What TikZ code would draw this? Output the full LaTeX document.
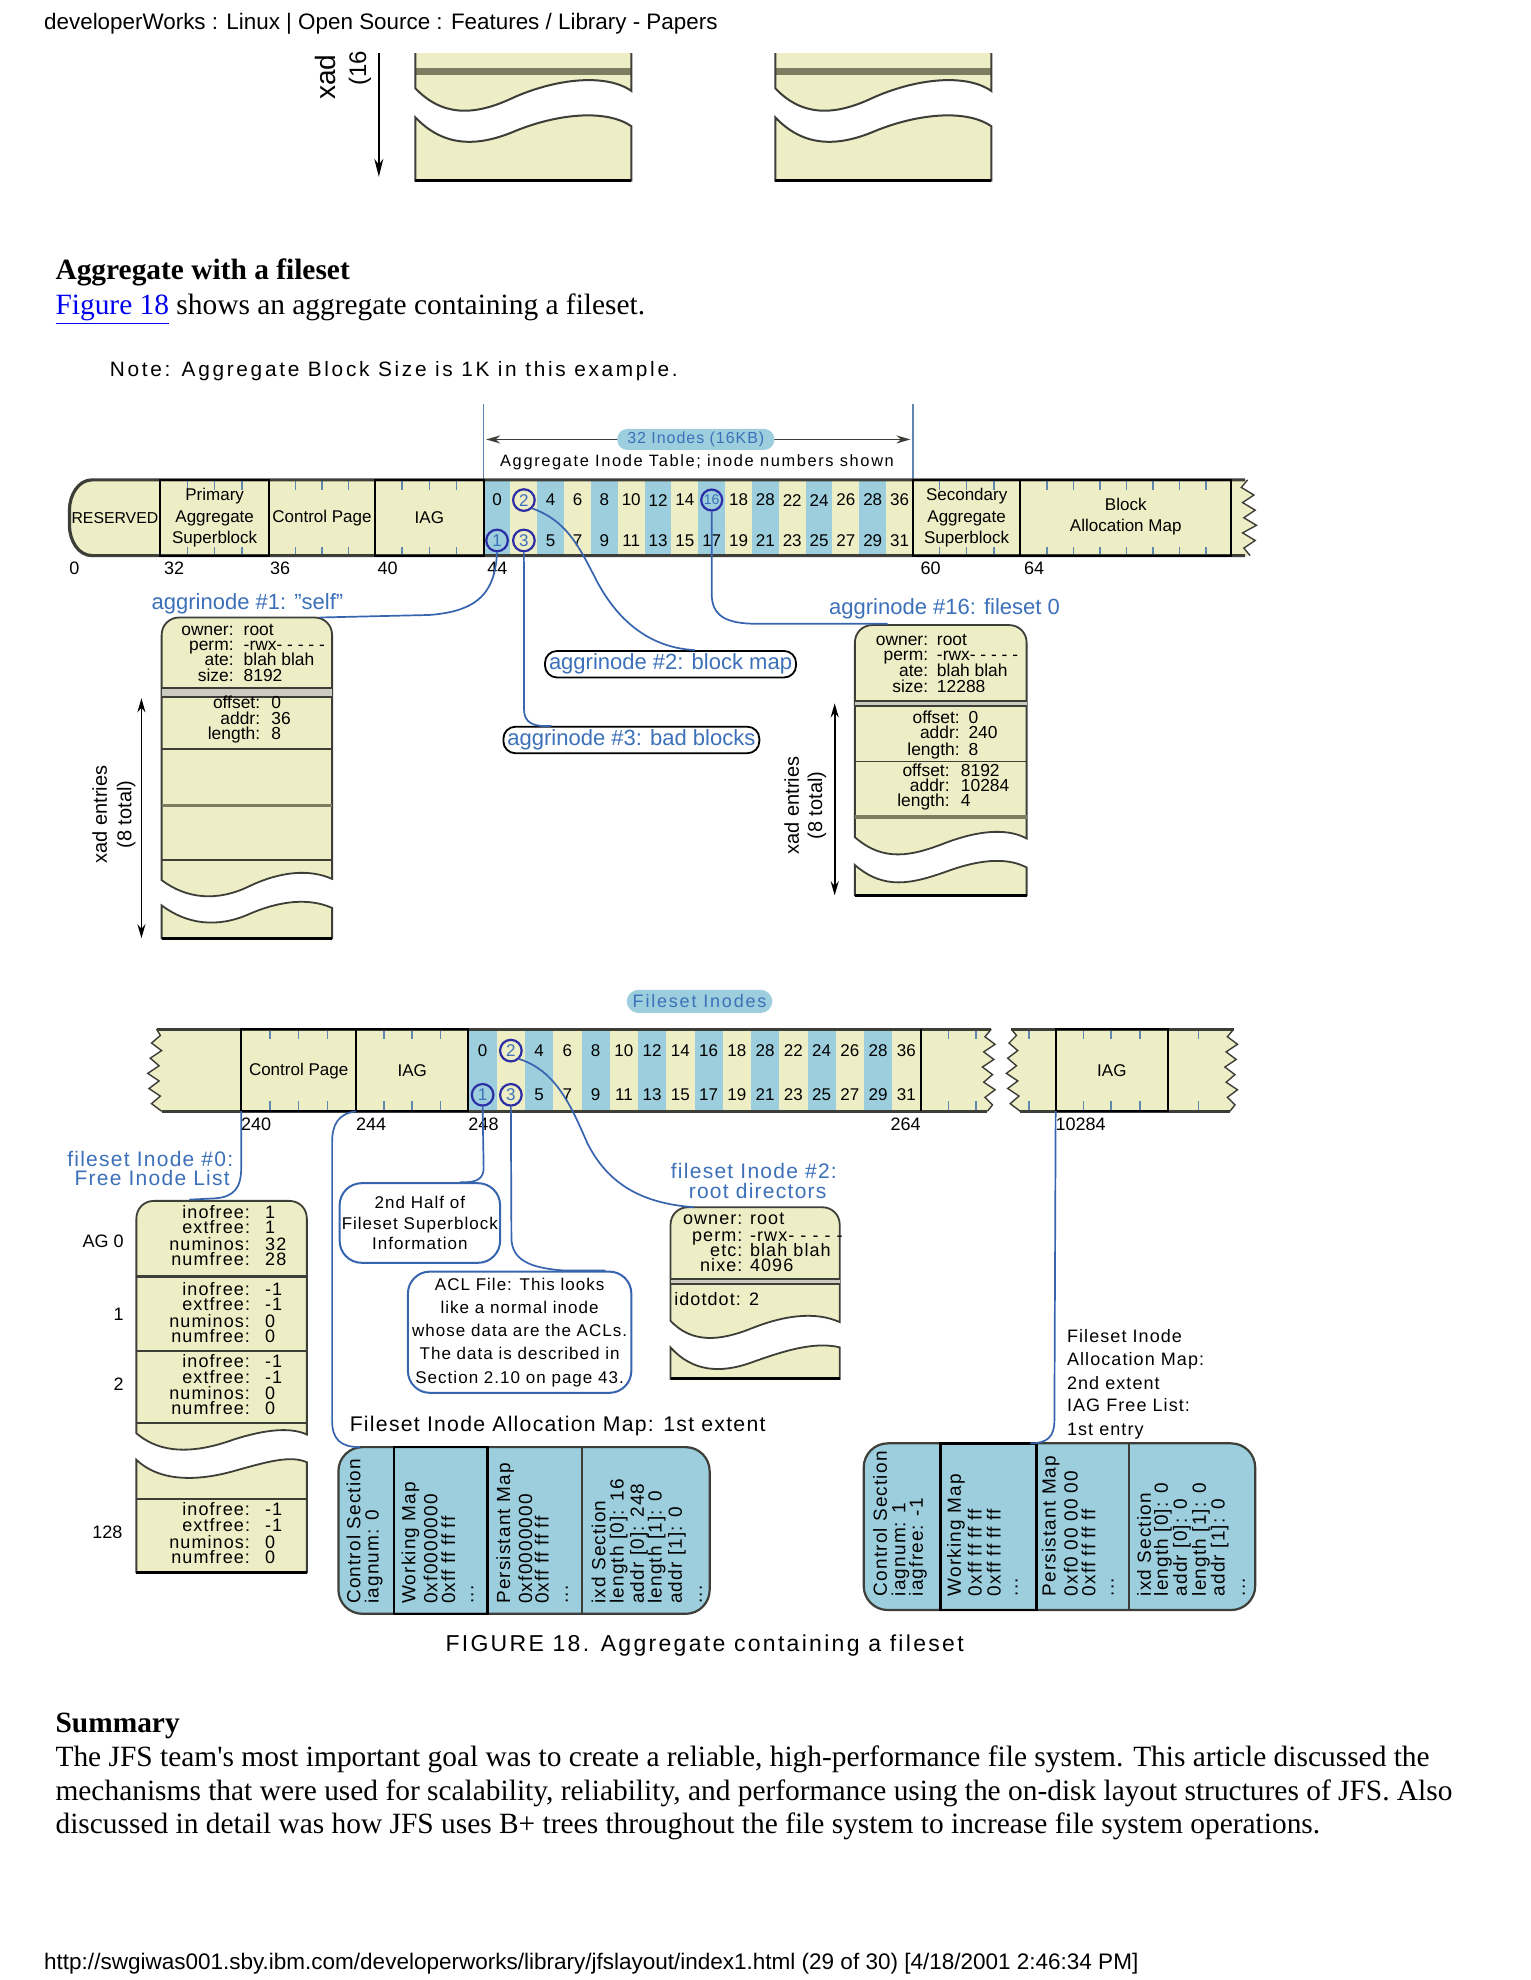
\documentclass[tikz,border=0pt]{standalone}
\usepackage{fontspec}
\setmainfont{Liberation Sans}
\newfontfamily\serifpage{Liberation Serif}
\newfontfamily\lsA[LetterSpace=6]{Liberation Sans}
\newfontfamily\lsB[LetterSpace=10]{Liberation Sans}
\newfontfamily\lsC[LetterSpace=13]{Liberation Sans}
\usetikzlibrary{arrows.meta}
\newcommand{\fsz}[1]{\fontsize{#1}{#1}\selectfont}
\newcommand{\kv}[7][\fsz{8.7}]{%
  \node[kvk, font=#1] (#2k) at (#3,#5) {#6};
  \node[kvv, font=#1] (#2v) at (#3+#4,#5) {#7};}
\definecolor{yel}{RGB}{238,238,198}
\definecolor{ibl}{RGB}{156,206,222}
\definecolor{lblue}{RGB}{60,112,185}
\definecolor{cblue}{RGB}{45,45,165}
\definecolor{connb}{RGB}{55,100,175}
\definecolor{olive}{RGB}{125,125,98}
\definecolor{bord}{RGB}{62,62,56}
\definecolor{tickc}{RGB}{95,135,175}
\definecolor{linkblue}{RGB}{0,0,238}
\tikzset{
 tx/.style={inner sep=0pt, outer sep=0pt},
 num/.style={tx, font=\fsz{8.5}},
 seg/.style={tx, font=\fontsize{8.5}{10.7}\selectfont, align=center},
 axl/.style={tx, font=\fsz{9}, anchor=base west},
 blu/.style={tx, font=\fsz{11}, text=lblue},
 blus/.style={tx, font=\lsA\fsz{10.5}, text=lblue},
 kvk/.style={tx, anchor=base east},
 kvv/.style={tx, anchor=base west},
 circ/.style={circle, draw=cblue, line width=1.1pt, inner sep=0pt, minimum size=10.8pt, text=lblue, font=\fsz{8.5}},
 conn/.style={draw=connb, line width=0.85pt},
 rot/.style={tx, rotate=90, anchor=west, font=\lsA\fsz{9.5}},
 tk/.style={draw=tickc, line width=0.8pt},
 boxst/.style={fill=yel, draw=bord, line width=0.9pt},
 sepl/.style={draw=bord, line width=0.8pt},
 sepk/.style={draw=bord, line width=1.3pt},
 oliv/.style={draw=olive, line width=1.6pt},
 segbox/.style={draw=black, line width=1pt},
 stripb/.style={draw=bord, line width=1.6pt},
 zig/.style={draw=bord, line width=0.7pt},
 iam/.style={fill=ibl, draw=bord, line width=1.1pt, rounded corners=12pt},
 bluebox/.style={draw=connb, line width=1pt, rounded corners=11pt, fill=white, align=center, inner sep=0pt},
 pillw/.style={draw=black, line width=0.9pt, rounded corners=6pt, fill=white, text=lblue, font=\fsz{11}, inner xsep=2pt, inner ysep=1.5pt},
 pillb/.style={fill=ibl, rounded corners=5pt, text=lblue},
 arr/.style={{Stealth[length=7pt,width=4pt]}-{Stealth[length=7pt,width=4pt]}, line width=0.9pt, draw=black},
}
\begin{document}
\begin{tikzpicture}[x=0.6312pt, y=-0.6312pt]
\useasboundingbox (0,0) rectangle (1212,1568);
\fill[white] (0,0) rectangle (1212,1568);

% ---------------- header
\node[tx, anchor=base west, font=\fsz{11.2}] (hdr) at (35,23) {developerWorks : Linux | Open Source : Features / Library - Papers};

% ---------------- fragment of previous figure
\begin{scope}
\clip (0,42) rectangle (1212,160);
\draw[-{Stealth[length=9pt,width=4.5pt]}, line width=0.9pt] (300,30) -- (300,140);
\foreach \sx in {329,614} {
 \begin{scope}[shift={(\sx,0)}]
 \fill[yel] (0,30) -- (171,30) -- (171,72) .. controls (151,58) and (111,62) .. (76,78) .. controls (46,92) and (21,92) .. (0,70) -- cycle;
 \fill[olive] (0,54) rectangle (171,59);
 \draw[bord, line width=1pt] (0,30) -- (0,70) .. controls (21,92) and (46,92) .. (76,78) .. controls (111,62) and (151,58) .. (171,72) -- (171,30);
 \filldraw[fill=yel, draw=bord, line width=1pt] (0,143) -- (0,93) .. controls (21,115) and (46,117) .. (76,105) .. controls (111,90) and (151,86) .. (171,100) -- (171,143) -- cycle;
 \draw[black, line width=1.8pt] (0,143) -- (171,143);
 \end{scope}}
\end{scope}
\node[tx, rotate=90, anchor=west, font=\fsz{14}] (xadA) at (258,79) {xad};
\node[tx, rotate=90, anchor=west, font=\fsz{12}] (xadB) at (285,68) {(16};

% ---------------- page text
\node[tx, anchor=base west, font=\serifpage\bfseries\fsz{14.7}] (h1) at (44,221) {Aggregate with a fileset};
\node[tx, anchor=base west, font=\serifpage\fsz{14.7}] (p1) at (44,249) {{\color{linkblue}\underline{Figure 18}} shows an aggregate containing a fileset.};
\node[tx, anchor=base west, font=\lsC\fsz{10.4}] (note) at (87,298) {Note: Aggregate Block Size is 1K in this example.};

% ---------------- aggregate strip
\draw[tk] (383,320) -- (383,380);
\draw[tk] (723,320) -- (723,380);
\coordinate (arL) at (385,348);
\coordinate (arR) at (721,348);
\draw[arr, draw=bord] (arL) -- (arR);
\node[pillb, font=\lsA\fsz{8}, inner xsep=5pt, inner ysep=1.5pt] (p32) at (551,348) {32 Inodes (16KB)};
\node[tx, font=\lsB\fsz{8.2}] (ait) at (552,366) {Aggregate Inode Table; inode numbers shown};

\fill[yel] (73,380) -- (988,380) -- (983,386) -- (993,392) -- (984,398) -- (994,404) -- (985,410) -- (995,416) -- (984,422) -- (994,428) -- (985,434) -- (990,440) -- (73,440) .. controls (62,440) and (55,428) .. (55,416) -- (55,404) .. controls (55,392) and (62,380) .. (73,380) -- cycle;
\foreach \k in {0,2,4,6,8,10,12,14} \fill[ibl] (383+21.25*\k,380) rectangle ++(21.25,60);
\foreach \x in {148.5,170,191.5,234,255,276,318.5,340,361.5,744,765.5,787,829,850,871,892,913,934,955} {
  \draw[tk] (\x,381) -- (\x,388); \draw[tk] (\x,433) -- (\x,440);}
\draw[stripb] (986,380) -- (73,380) .. controls (62,380) and (55,392) .. (55,404) -- (55,416) .. controls (55,428) and (62,440) .. (73,440) -- (986,440);
\draw[segbox] (127,380) rectangle (213,440);
\draw[segbox] (297,380) rectangle (383,440);
\draw[segbox] (723,380) rectangle (808,440);
\draw[segbox] (808,380) rectangle (975,440);
\draw[zig] (988,380) -- (983,386) -- (993,392) -- (984,398) -- (994,404) -- (985,410) -- (995,416) -- (984,422) -- (994,428) -- (985,434) -- (990,440);

\node[seg, font=\fsz{7.9}] (res) at (91,410) {RESERVED};
\node[seg] (pas) at (170,410) {Primary\\Aggregate\\Superblock};
\node[seg] (cp1) at (255,410) {Control Page};
\node[seg] (iag1) at (340,410) {IAG};
\node[seg] (sas) at (765.5,410) {Secondary\\Aggregate\\Superblock};
\node[seg] (bam) at (891.5,409) {Block\\Allocation Map};

\foreach \i/\t in {0/0,2/4,3/6,4/8,5/10,6/12,7/14,9/18,10/28,11/22,12/24,13/26,14/28,15/36}
  \node[num] (at\i) at (393.625+21.25*\i,396) {\t};
\foreach \i/\t in {2/5,3/7,4/9,5/11,6/13,7/15,8/17,9/19,10/21,11/23,12/25,13/27,14/29,15/31}
  \node[num] (ab\i) at (393.625+21.25*\i,428) {\t};
\node[circ, fill=ibl] (c1) at (393.625,428) {1};
\node[circ, fill=yel] (c2) at (414.875,396) {2};
\node[circ, fill=yel] (c3) at (414.875,428) {3};
\node[circ, fill=ibl, font=\fsz{7}, minimum size=10.5pt] (c16) at (563.625,396) {16};

\node[axl] (n0) at (55,455) {0};
\node[axl] (n32) at (130,455) {32};
\node[axl] (n36) at (214,455) {36};
\node[axl] (n40) at (299,455) {40};
\node[axl] (n44) at (386,455) {44};
\node[axl] (n60) at (729,455) {60};
\node[axl] (n64) at (811,455) {64};

% ---------------- aggrinode #1 box
\node[blu] (l1) at (196,478) {aggrinode \#1: "self"};
\filldraw[boxst] (128,697) -- (128,503) .. controls (128,495) and (134,489) .. (142,489) -- (249,489) .. controls (257,489) and (263,495) .. (263,503) -- (263,696) .. controls (245,688) and (222,690) .. (197,702) .. controls (172,714) and (148,712) .. (128,697) -- cycle;
\fill[olive!40] (128,545) rectangle (263,552);
\draw[sepl] (128,545) -- (263,545);
\draw[sepl] (128,552) -- (263,552);
\draw[sepl] (128,593) -- (263,593);
\draw[oliv] (128,638) -- (263,638);
\draw[sepl] (128,681) -- (263,681);
\filldraw[boxst] (128,743) -- (128,717) .. controls (148,732) and (172,735) .. (197,724) .. controls (222,713) and (245,711) .. (263,719) -- (263,743) -- cycle;
\draw[black, line width=1.5pt] (128,743) -- (263,743);
\kv{b1o}{185}{8}{503}{owner:}{root}
\kv{b1p}{185}{8}{515}{perm:}{-rwx- - - - -}
\kv{b1a}{185}{8}{527}{ate:}{blah blah}
\kv{b1s}{185}{8}{540}{size:}{8192}
\kv{b1f}{206}{9}{561}{offset:}{0}
\kv{b1d}{206}{9}{574}{addr:}{36}
\kv{b1l}{206}{9}{586}{length:}{8}
\coordinate (xa1) at (112,553);
\coordinate (xa2) at (112,743);
\draw[arr] (xa1) -- (xa2);
\node[tx, rotate=90, font=\fsz{10}] (xe1) at (79,645) {xad entries};
\node[tx, rotate=90, font=\fsz{10}] (xt1) at (100,645) {(8 total)};

% ---------------- pills
\node[pillw] (p2) at (531,526) {aggrinode \#2: block map};
\node[pillw] (p3) at (500,586) {aggrinode \#3: bad blocks};

% ---------------- aggrinode #16 box
\node[blu] (l16) at (748,482) {aggrinode \#16: fileset 0};
\filldraw[boxst] (677,663) -- (677,509) .. controls (677,501) and (683,495) .. (691,495) -- (799,495) .. controls (807,495) and (813,501) .. (813,509) -- (813,664) .. controls (800,657) and (780,656) .. (750,667) .. controls (722,678) and (700,683) .. (677,663) -- cycle;
\fill[olive!40] (677,555) rectangle (813,559);
\draw[sepl] (677,555) -- (813,555);
\draw[sepl] (677,559) -- (813,559);
\draw[sepl] (677,603) -- (813,603);
\draw[oliv] (677,647) -- (813,647);
\filldraw[boxst] (677,709) -- (677,685) .. controls (700,705) and (722,700) .. (750,690) .. controls (780,679) and (800,680) .. (813,687) -- (813,709) -- cycle;
\draw[black, line width=1.5pt] (677,709) -- (813,709);
\kv{b16o}{735}{7}{511}{owner:}{root}
\kv{b16p}{735}{7}{523}{perm:}{-rwx- - - - -}
\kv{b16a}{735}{7}{536}{ate:}{blah blah}
\kv{b16s}{735}{7}{548}{size:}{12288}
\kv{b16f}{760}{7}{573}{offset:}{0}
\kv{b16d}{760}{7}{585}{addr:}{240}
\kv{b16l}{760}{7}{598}{length:}{8}
\kv{b16g}{752}{9}{615}{offset:}{8192}
\kv{b16e}{752}{9}{627}{addr:}{10284}
\kv{b16m}{752}{9}{639}{length:}{4}
\coordinate (xb1) at (661,557);
\coordinate (xb2) at (661,709);
\draw[arr] (xb1) -- (xb2);
\node[tx, rotate=90, font=\fsz{10}] (xe2) at (627,638) {xad entries};
\node[tx, rotate=90, font=\fsz{10}] (xt2) at (647,638) {(8 total)};

% ---------------- connectors of aggregate
\coordinate (e1) at (253,489);
\coordinate (e16) at (703,494);
\draw[conn] (c1.south) .. controls (392,468) and (380,484) .. (340,487) -- (e1);
\draw[conn] (c2.south east) .. controls (448,412) and (458,432) .. (470,455) .. controls (488,492) and (515,513) .. ([xshift=12pt]p2.north);
\draw[conn] (c3.south) -- (415,562) .. controls (415,572) and (422,576) .. ([xshift=-40pt]p3.north);
\draw[conn] (c16.south) -- (563.6,470) .. controls (563.6,488) and (575,494) .. (600,494) -- (e16);

% ---------------- fileset strip
\node[pillb, font=\lsB\fsz{9}, inner xsep=3pt, inner ysep=2.5pt, rounded corners=6pt] (pfi) at (554,793) {Fileset Inodes};
\fill[yel] (124,815) -- (785,815) -- (780,821) -- (788,827) -- (779,833) -- (787,839) -- (778,845) -- (786,851) -- (779,857) -- (788,863) -- (780,869) -- (786,875) -- (782,880) -- (128,880) -- (120,874) -- (127,868) -- (118,862) -- (126,856) -- (117,850) -- (126,844) -- (119,838) -- (128,832) -- (120,826) -- (127,820) -- cycle;
\fill[yel] (801,815) -- (977,815) -- (972,821) -- (980,827) -- (971,833) -- (979,839) -- (970,845) -- (978,851) -- (971,857) -- (980,863) -- (972,869) -- (978,875) -- (974,880) -- (808,880) -- (800,874) -- (807,868) -- (798,862) -- (806,856) -- (797,850) -- (805,844) -- (798,838) -- (806,832) -- (799,826) -- (805,820) -- cycle;
\foreach \k in {0,2,4,6,8,10,12,14} \fill[ibl] (371+22.375*\k,815) rectangle ++(22.375,65);
\foreach \x in {213.75,236.5,259.25,304.25,326.5,348.75,751,773,815,858,880,903,949} {
  \draw[tk] (\x,816) -- (\x,823); \draw[tk] (\x,872) -- (\x,879);}
\draw[stripb] (124,815) -- (785,815);
\draw[stripb] (128,880) -- (782,880);
\draw[stripb] (801,815) -- (977,815);
\draw[stripb] (808,880) -- (974,880);
\draw[segbox] (191,815) rectangle (282,880);
\draw[segbox] (282,815) rectangle (371,880);
\draw[segbox] (729,815) -- (729,880);
\draw[segbox] (836,815) rectangle (925,880);
\draw[zig] (124,815) -- (127,820) -- (120,826) -- (128,832) -- (119,838) -- (126,844) -- (117,850) -- (126,856) -- (118,862) -- (127,868) -- (120,874) -- (128,880);
\draw[zig] (785,815) -- (780,821) -- (788,827) -- (779,833) -- (787,839) -- (778,845) -- (786,851) -- (779,857) -- (788,863) -- (780,869) -- (786,875) -- (782,880);
\draw[zig] (801,815) -- (805,820) -- (799,826) -- (806,832) -- (798,838) -- (805,844) -- (797,850) -- (806,856) -- (798,862) -- (807,868) -- (800,874) -- (808,880);
\draw[zig] (977,815) -- (972,821) -- (980,827) -- (971,833) -- (979,839) -- (970,845) -- (978,851) -- (971,857) -- (980,863) -- (972,869) -- (978,875) -- (974,880);
\node[seg] (cp2) at (236.5,848) {Control Page};
\node[seg] (iag2) at (326.5,848) {IAG};
\node[seg] (iag3) at (880.5,848) {IAG};
\foreach \i/\t in {0/0,2/4,3/6,4/8,5/10,6/12,7/14,8/16,9/18,10/28,11/22,12/24,13/26,14/28,15/36}
  \node[num] (ft\i) at (382.19+22.375*\i,832) {\t};
\foreach \i/\t in {2/5,3/7,4/9,5/11,6/13,7/15,8/17,9/19,10/21,11/23,12/25,13/27,14/29,15/31}
  \node[num] (fb\i) at (382.19+22.375*\i,867) {\t};
\node[circ, fill=ibl] (d1) at (382.19,867) {1};
\node[circ, fill=yel] (d2) at (404.565,832) {2};
\node[circ, fill=yel] (d3) at (404.565,867) {3};
\node[axl] (m240) at (191,895) {240};
\node[axl] (m244) at (282,895) {244};
\node[axl] (m248) at (371,895) {248};
\node[tx, font=\fsz{9}, anchor=base east] (m264) at (729,895) {264};
\node[axl] (m10284) at (836,895) {10284};

% ---------------- free inode list
\node[blus] (fl1) at (119,918) {fileset Inode \#0:};
\node[blus] (fl2) at (120.5,933) {Free Inode List};
\filldraw[boxst] (108,1135) -- (108,965) .. controls (108,957) and (114,951) .. (122,951) -- (229,951) .. controls (237,951) and (243,957) .. (243,965) -- (243,1136) .. controls (230,1130) and (210,1132) .. (185,1140) .. controls (160,1149) and (130,1154) .. (108,1135) -- cycle;
\draw[sepk] (108,1011) -- (243,1011);
\draw[sepk] (108,1070) -- (243,1070);
\draw[sepk] (108,1127) -- (243,1127);
\filldraw[boxst] (108,1245) -- (108,1156) .. controls (128,1175) and (160,1172) .. (185,1165) .. controls (210,1158) and (230,1152) .. (243,1158) -- (243,1245) -- cycle;
\draw[sepk] (108,1187) -- (243,1187);
\draw[black, line width=1.5pt] (108,1245) -- (243,1245);
\kv[\lsA\fsz{9}]{fa1}{198}{12}{965}{inofree:}{1}
\kv[\lsA\fsz{9}]{fa2}{198}{12}{977}{extfree:}{1}
\kv[\lsA\fsz{9}]{fa3}{198}{12}{990}{numinos:}{32}
\kv[\lsA\fsz{9}]{fa4}{198}{12}{1002}{numfree:}{28}
\kv[\lsA\fsz{9}]{fb1x}{198}{12}{1026}{inofree:}{-1}
\kv[\lsA\fsz{9}]{fb2x}{198}{12}{1038}{extfree:}{-1}
\kv[\lsA\fsz{9}]{fb3x}{198}{12}{1051}{numinos:}{0}
\kv[\lsA\fsz{9}]{fb4x}{198}{12}{1063}{numfree:}{0}
\kv[\lsA\fsz{9}]{fc1}{198}{12}{1083}{inofree:}{-1}
\kv[\lsA\fsz{9}]{fc2}{198}{12}{1096}{extfree:}{-1}
\kv[\lsA\fsz{9}]{fc3}{198}{12}{1108}{numinos:}{0}
\kv[\lsA\fsz{9}]{fc4}{198}{12}{1120}{numfree:}{0}
\kv[\lsA\fsz{9}]{fd1}{198}{12}{1200}{inofree:}{-1}
\kv[\lsA\fsz{9}]{fd2}{198}{12}{1213}{extfree:}{-1}
\kv[\lsA\fsz{9}]{fd3}{198}{12}{1226}{numinos:}{0}
\kv[\lsA\fsz{9}]{fd4}{198}{12}{1238}{numfree:}{0}
\node[tx, font=\fsz{9}, anchor=base east] (ag0) at (98,988) {AG 0};
\node[tx, font=\fsz{9}, anchor=base east] (ag1) at (98,1046) {1};
\node[tx, font=\fsz{9}, anchor=base east] (ag2) at (98,1101) {2};
\node[tx, font=\fsz{9}, anchor=base east] (ag128) at (97,1218) {128};

% ---------------- blue boxes
\node[bluebox, font=\lsA\fontsize{8.5}{10.1}\selectfont, minimum width=80.2pt, minimum height=39.8pt] (half) at (332.5,968.5) {2nd Half of\\Fileset Superblock\\Information};
\node[bluebox, font=\lsA\fontsize{8.5}{11.6}\selectfont, minimum width=111.7pt, minimum height=60.6pt] (acl) at (411.5,1055) {ACL File: This looks\\like a normal inode\\whose data are the ACLs.\\The data is described in\\Section 2.10 on page 43.};

% ---------------- root directory inode
\node[blus] (rl1) at (597,927) {fileset Inode \#2:};
\node[blus] (rl2) at (600,943) {root directors};
\filldraw[boxst] (531,1046) -- (531,970) .. controls (531,962) and (537,956) .. (545,956) -- (651,956) .. controls (659,956) and (665,962) .. (665,970) -- (665,1047) .. controls (645,1038) and (620,1042) .. (595,1052) .. controls (570,1062) and (548,1064) .. (531,1046) -- cycle;
\fill[olive!40] (531,1013) rectangle (665,1017);
\draw[sepl] (531,1013) -- (665,1013);
\draw[sepl] (531,1017) -- (665,1017);
\filldraw[boxst] (531,1092) -- (531,1067) .. controls (548,1086) and (570,1088) .. (595,1079) .. controls (620,1070) and (645,1062) .. (665,1067) -- (665,1092) -- cycle;
\draw[black, line width=1.5pt] (531,1092) -- (665,1092);
\kv[\lsA\fsz{9}]{rdo}{588}{6}{970}{owner:}{root}
\kv[\lsA\fsz{9}]{rdp}{588}{6}{983}{perm:}{-rwx- - - - -}
\kv[\lsA\fsz{9}]{rde}{588}{6}{995}{etc:}{blah blah}
\kv[\lsA\fsz{9}]{rdn}{588}{6}{1007}{nixe:}{4096}
\node[tx, anchor=base west, font=\lsA\fsz{9}] (idd) at (534,1034) {idotdot: 2};

% ---------------- inode allocation maps
\node[tx, anchor=base west, font=\lsA\fsz{10.6}] (fiam) at (277,1134) {Fileset Inode Allocation Map: 1st extent};
\draw[iam] (268,1146) rectangle (562,1278);
\draw[sepl] (461,1146) -- (461,1278);
\draw[black, line width=1.3pt] (312,1146) rectangle (386,1278);
\foreach \x/\s [count=\i] in {280/{Control Section}, 296/{iagnum: 0}, 325/{Working Map}, 341/{0xf0000000}, 355/{0xff ff ff ff}, 400/{Persistant Map}, 416/{0xf0000000}, 429/{0xff ff ff ff}, 474/{ixd Section}, 490/{length [0]: 16}, 506/{addr [0]: 248}, 520/{length [1]: 0}, 536/{addr [1]: 0}}
  \node[rot] (ma\i) at (\x,1270) {\s};
\node[rot] (mad1) at (374,1270) {...};
\node[rot] (mad2) at (449,1270) {...};
\node[rot] (mad3) at (555,1270) {...};

\node[tx, anchor=base west, font=\lsA\fsz{9}] (xt1a) at (845,1063) {Fileset Inode};
\node[tx, anchor=base west, font=\lsA\fsz{9}] (xt1b) at (845,1081) {Allocation Map:};
\node[tx, anchor=base west, font=\lsA\fsz{9}] (xt1c) at (845,1100) {2nd extent};
\node[tx, anchor=base west, font=\lsA\fsz{9}] (xt1d) at (845,1118) {IAG Free List:};
\node[tx, anchor=base west, font=\lsA\fsz{9}] (xt1e) at (845,1137) {1st entry};
\draw[iam] (684,1143) rectangle (994,1275);
\draw[sepl] (894,1143) -- (894,1275);
\draw[black, line width=1.3pt] (745,1143) rectangle (821,1275);
\foreach \x/\s [count=\i] in {697/{Control Section}, 713/{iagnum: 1}, 727/{iagfree: -1}, 757/{Working Map}, 772/{0xff ff ff ff}, 787/{0xff ff ff ff}, 832/{Persistant Map}, 848/{0xf0 00 00 00}, 862/{0xff ff ff ff}, 906/{ixd Section}, 921/{length [0]: 0}, 936/{addr [0]: 0}, 951/{length [1]: 0}, 966/{addr [1]: 0}}
  \node[rot] (mb\i) at (\x,1264) {\s};
\node[rot] (mbd1) at (805,1264) {...};
\node[rot] (mbd2) at (881,1264) {...};
\node[rot] (mbd3) at (985,1264) {...};

% ---------------- connectors of fileset
\coordinate (s240) at (191,880);
\coordinate (s244) at (282,880);
\coordinate (s10284) at (836,880);
\coordinate (flt) at (150,950);
\coordinate (iam1e) at (285,1146);
\coordinate (iam2e) at (816,1143);
\coordinate (rdt) at (550,956);
\draw[conn] (s240) -- (191,925) .. controls (191,941) and (185,948) .. (170,949) -- (flt);
\draw[conn] (s244) .. controls (268,882) and (263,890) .. (263,905) -- (263,1125) .. controls (263,1140) and (270,1146) .. (iam1e);
\draw[conn] (d1.south) -- (383,925) .. controls (383,933) and (378,937) .. ([xshift=20pt]half.north);
\draw[conn] (d3.south) -- (405,980) .. controls (405,998) and (420,1004) .. (445,1006) -- ([xshift=43pt]acl.north);
\draw[conn] (d2.south east) .. controls (440,848) and (452,875) .. (465,905) .. controls (480,935) and (505,953) .. (rdt);
\draw[conn] (s10284) -- (835,1125) .. controls (835,1138) and (829,1143) .. (iam2e);

% ---------------- caption & summary
\node[tx, anchor=base, font=\lsB\fsz{11.5}] (cap) at (558,1308) {FIGURE 18. Aggregate containing a fileset};
\node[tx, anchor=base west, font=\serifpage\bfseries\fsz{14.7}] (sum) at (44,1372) {Summary};
\node[tx, anchor=base west, font=\serifpage\fsz{14.7}] (sl1) at (44,1399) {The JFS team's most important goal was to create a reliable, high-performance file system. This article discussed the};
\node[tx, anchor=base west, font=\serifpage\fsz{14.7}] (sl2) at (44,1426) {mechanisms that were used for scalability, reliability, and performance using the on-disk layout structures of JFS. Also};
\node[tx, anchor=base west, font=\serifpage\fsz{14.7}] (sl3) at (44,1452) {discussed in detail was how JFS uses B+ trees throughout the file system to increase file system operations.};
\node[tx, anchor=base west, font=\fsz{11.25}] (ftr) at (35,1560) {http://swgiwas001.sby.ibm.com/developerworks/library/jfslayout/index1.html (29 of 30) [4/18/2001 2:46:34 PM]};
\end{tikzpicture}
\end{document}
